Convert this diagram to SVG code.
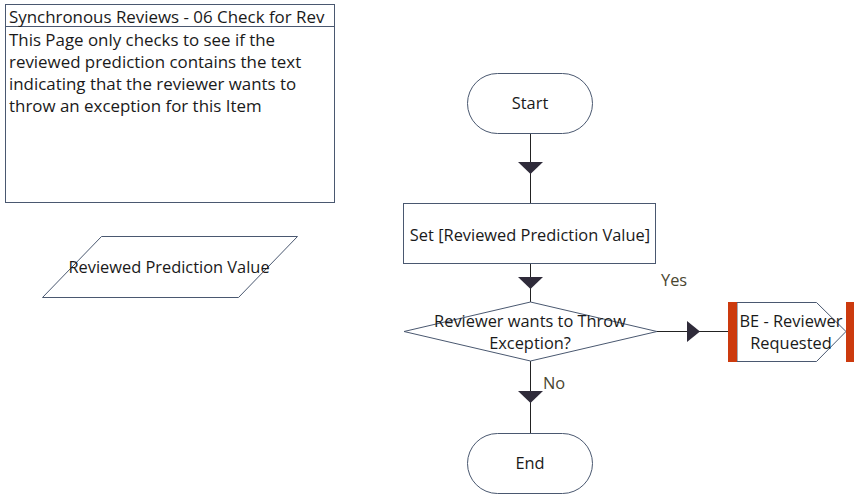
<svg xmlns="http://www.w3.org/2000/svg" width="861" height="498" viewBox="0 0 861 498">
<defs>
<style>
text{font-family:"Open Sans","Noto Sans","DejaVu Sans",sans-serif;font-size:16.4px;fill:#1a1a1a}
.n{font-size:16.9px}
.c{text-anchor:middle}
.node{fill:#fff;stroke:#4a5870;stroke-width:1}
.conn{stroke:#222;stroke-width:1;fill:none}
.ah{fill:#2f2b3a;stroke:none}
.lbl{fill:#4a4630}
.bar{fill:#cc3a0e}
</style>
</defs>
<rect width="861" height="498" fill="#fff"/>
<g id="note">
<rect class="node" x="5.5" y="4.5" width="329" height="198"/>
<line class="node" x1="5.5" y1="26.5" x2="334.5" y2="26.5"/>
<text class="n" x="9" y="23">Synchronous Reviews - 06 Check for Rev</text>
<text class="n" x="9" y="46">This Page only checks to see if the</text>
<text class="n" x="9" y="68">reviewed prediction contains the text</text>
<text class="n" x="9" y="90">indicating that the reviewer wants to</text>
<text class="n" x="9" y="112">throw an exception for this Item</text>
</g>
<g id="data-reviewed-prediction">
<polygon class="node" points="101.5,236.5 297.5,236.5 238.5,297.5 42.5,297.5"/>
<text class="c" x="169" y="273">Reviewed Prediction Value</text>
</g>
<g id="connectors">
<line class="conn" x1="530.5" y1="133" x2="530.5" y2="203"/>
<polygon class="ah" points="518,162 543,162 530.5,174"/>
<line class="conn" x1="530.5" y1="264" x2="530.5" y2="302"/>
<polygon class="ah" points="518,277 543,277 530.5,289"/>
<line class="conn" x1="657" y1="331.5" x2="728" y2="331.5"/>
<polygon class="ah" points="687,321 687,342 700,331.5"/>
<line class="conn" x1="530.5" y1="361" x2="530.5" y2="433"/>
<polygon class="ah" points="518,391 543,391 530.5,403"/>
<text class="lbl" x="661" y="286">Yes</text>
<text class="lbl" x="543" y="389">No</text>
</g>
<g id="start">
<rect class="node" x="467.5" y="73.5" width="125" height="60" rx="30" ry="30"/>
<text class="c" x="530" y="109">Start</text>
</g>
<g id="set-reviewed-prediction">
<rect class="node" x="403.5" y="203.5" width="252" height="60"/>
<text class="c" x="530" y="241">Set [Reviewed Prediction Value]</text>
</g>
<g id="decision">
<polygon class="node" points="404,331.5 530.5,302 657,331.5 530.5,361"/>
<text class="c" x="530" y="327">Reviewer wants to Throw</text>
<text class="c" x="530" y="349">Exception?</text>
</g>
<g id="be-reviewer-requested">
<polygon class="node" points="737,302.5 816.5,302.5 846,331.5 816.5,361.5 737,361.5"/>
<rect class="bar" x="728" y="302" width="9" height="60"/>
<rect class="bar" x="846" y="302" width="8" height="60"/>
<text class="c" x="791" y="327">BE - Reviewer</text>
<text class="c" x="791" y="349">Requested</text>
</g>
<g id="end">
<rect class="node" x="467.5" y="433.5" width="125" height="60" rx="30" ry="30"/>
<text class="c" x="530" y="469">End</text>
</g>
</svg>
